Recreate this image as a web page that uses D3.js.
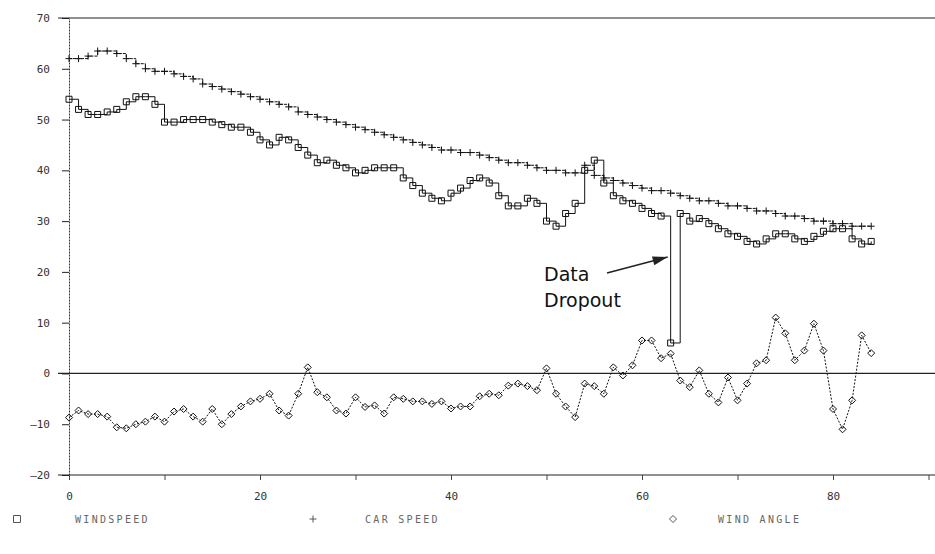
<!DOCTYPE html>
<html>
<head>
<meta charset="utf-8">
<script src="https://cdn.jsdelivr.net/npm/d3@7"></script>
<style>
  body { margin: 0; background: #fff; }
  svg { display: block; }
  .tick text { font-family: "DejaVu Sans Mono", monospace; font-size: 11px; fill: #333; }
</style>
</head>
<body>
<script>
var width = 935;
var height = 554;

// time in samples along the x axis
var time = d3.range(0, 85);

var windSpeed = [54,52,51,51,51.5,52,53.5,54.5,54.5,53,
  49.5,49.5,50,50,50,49.5,49,48.5,48.5,47.5,
  46,45,46.5,46,44.5,43,41.5,42,41,40.5,
  39.5,40,40.5,40.5,40.5,38.5,37,35.5,34.5,34,
  35.5,36.5,38,38.5,37.5,35,33,33,34.5,33.5,
  30,29,31.5,33.5,40,42,37.5,35,34,33.5,
  32.5,31.5,31,6,31.5,30,30.5,29.5,28.5,27.5,
  27,26,25.5,26.5,27.5,27.5,26.5,26,27,28,
  28.5,28.5,26.5,25.5,26];

var carSpeed = [62,62,62.5,63.5,63.5,63,62,61,60,59.5,
  59.5,59,58.5,58,57,56.5,56,55.5,55,54.5,
  54,53.5,53,52.5,51.5,51,50.5,50,49.5,49,
  48.5,48,47.5,47,46.5,46,45.5,45,44.5,44,
  44,43.5,43.5,43,42.5,42,41.5,41.5,41,40.5,
  40,40,39.5,39.5,41,39,38.5,38,37.5,37,
  36.5,36,36,35.5,35,34.5,34,34,33.5,33,
  33,32.5,32,32,31.5,31,31,30.5,30,30,
  29.5,29.5,29,29,29];

var windAngle = [-8.7,-7.3,-8,-8,-8.5,-10.6,-10.8,-10,-9.5,-8.5,
  -9.5,-7.5,-7,-8.5,-9.5,-7,-10,-8,-6.5,-5.5,
  -5,-4,-7.3,-8.3,-4,1.2,-3.7,-4.7,-7.3,-7.9,
  -4.7,-6.6,-6.3,-7.9,-4.7,-5,-5.5,-5.5,-6,-5.5,
  -6.9,-6.5,-6.5,-4.5,-4,-4.3,-2.4,-2,-2.5,-3.3,
  1,-4,-6.5,-8.6,-2,-2.5,-4,1.2,-0.4,1.6,
  6.5,6.5,3,3.9,-1.4,-2.7,0.6,-4,-5.7,-0.8,
  -5.3,-2,2,2.6,11,7.9,2.6,4.5,9.8,4.5,
  -7,-11,-5.3,7.5,4];

var yTicks = [70,60,50,40,30,20,10,0,-10,-20];
var xTicks = [0,10,20,30,40,50,60,70,80,90];
var xLabels = [0,20,40,60,80];
var legendLabels = ['WINDSPEED', 'CAR SPEED', 'WIND ANGLE'];
var noteLines = ['Data', 'Dropout'];

var svg = d3.select('body').append('svg')
  .attr('width', width)
  .attr('height', height);

var x = d3.scaleLinear().domain([0, 90]).range([69, 928.5]);
var y = d3.scaleLinear().domain([-20, 70]).range([475, 18]);

// marker shapes
var shapes = {
  square: function(s) { return 'M' + (-s) + ',' + (-s) + 'h' + (2*s) + 'v' + (2*s) + 'h' + (-2*s) + 'Z'; },
  plus: function(s) { return 'M' + (-s) + ',0h' + (2*s) + 'M0,' + (-s) + 'v' + (2*s); },
  diamond: function(s) { return 'M0,' + (-s) + 'L' + s + ',0L0,' + s + 'L' + (-s) + ',0Z'; }
};

// frame lines: top (70), zero and bottom (-20)
[70, 0, -20].forEach(function(v) {
  svg.append('line')
    .attr('x1', 58).attr('x2', width)
    .attr('y1', y(v)).attr('y2', y(v))
    .attr('stroke', '#222').attr('stroke-width', 1.2);
});

// y axis
var yAxis = svg.append('g')
  .attr('transform', 'translate(' + x(0) + ',0)')
  .call(d3.axisLeft(y).tickValues(yTicks).tickSize(7).tickSizeOuter(0).tickPadding(12)
    .tickFormat(function(d) { return d < 0 ? '\u2013' + Math.abs(d) : d; }));
yAxis.select('.domain').attr('stroke', '#333').attr('stroke-dasharray', '2,1');
yAxis.selectAll('.tick line').attr('stroke', '#222');

// x axis
var xAxis = svg.append('g')
  .attr('transform', 'translate(0,' + y(-20) + ')')
  .call(d3.axisBottom(x).tickValues(xTicks).tickSize(5).tickSizeOuter(0).tickPadding(12)
    .tickFormat(function(d) { return xLabels.indexOf(d) >= 0 ? d : ''; }));
xAxis.select('.domain').remove();
xAxis.selectAll('.tick line').attr('stroke', '#444');

function drawSeries(values, curve, shape, size, dash) {
  var pts = time.map(function(t, i) { return [t, values[i]]; });
  var line = d3.line()
    .x(function(d) { return x(d[0]); })
    .y(function(d) { return y(d[1]); })
    .curve(curve);
  svg.append('path')
    .datum(pts)
    .attr('d', line)
    .attr('fill', 'none')
    .attr('stroke', '#111')
    .attr('stroke-width', 1)
    .attr('stroke-dasharray', dash);
  svg.append('g').selectAll('path')
    .data(pts)
    .enter().append('path')
    .attr('transform', function(d) { return 'translate(' + x(d[0]) + ',' + y(d[1]) + ')'; })
    .attr('d', shapes[shape](size))
    .attr('fill', 'none')
    .attr('stroke', '#111')
    .attr('stroke-width', 1);
}

drawSeries(carSpeed, d3.curveStepAfter, 'plus', 3.5, '3,1');
drawSeries(windSpeed, d3.curveStepAfter, 'square', 3, null);
drawSeries(windAngle, d3.curveLinear, 'diamond', 3.5, '2,1.5');

// annotation
var note = svg.append('g');
note.selectAll('text')
  .data(noteLines)
  .enter().append('text')
  .attr('x', 544)
  .attr('y', function(d, i) { return 281 + i * 26; })
  .attr('font-family', 'DejaVu Sans')
  .attr('font-size', 19)
  .attr('fill', '#111')
  .text(function(d) { return d; });

svg.append('defs').append('marker')
  .attr('id', 'arrow')
  .attr('viewBox', '0 0 10 6')
  .attr('refX', 10).attr('refY', 3)
  .attr('markerWidth', 26).attr('markerHeight', 9)
  .attr('markerUnits', 'userSpaceOnUse')
  .attr('orient', 'auto')
  .append('path')
  .attr('d', 'M0,0L10,3L0,6Z')
  .attr('fill', '#222');

note.append('line')
  .attr('x1', 607).attr('y1', 273)
  .attr('x2', x(63) - 3).attr('y2', 257)
  .attr('stroke', '#222').attr('stroke-width', 1.6)
  .attr('marker-end', 'url(#arrow)');

// legend
var legendShapes = ['square', 'plus', 'diamond'];
var legendX = [17, 313, 673];
var legendGap = [58, 52, 45];
var legend = svg.append('g').selectAll('g')
  .data(legendLabels)
  .enter().append('g')
  .attr('transform', function(d, i) { return 'translate(' + legendX[i] + ',519)'; });
legend.append('path')
  .attr('d', function(d, i) { return shapes[legendShapes[i]](3.5); })
  .attr('fill', 'none')
  .attr('stroke', '#555')
  .attr('stroke-width', 1);
legend.append('text')
  .attr('x', function(d, i) { return legendGap[i]; })
  .attr('y', 4)
  .attr('font-family', 'DejaVu Sans Mono')
  .attr('font-size', 10)
  .attr('letter-spacing', 2.3)
  .attr('fill', '#666')
  .text(function(d) { return d; });
</script>
</body>
</html>
